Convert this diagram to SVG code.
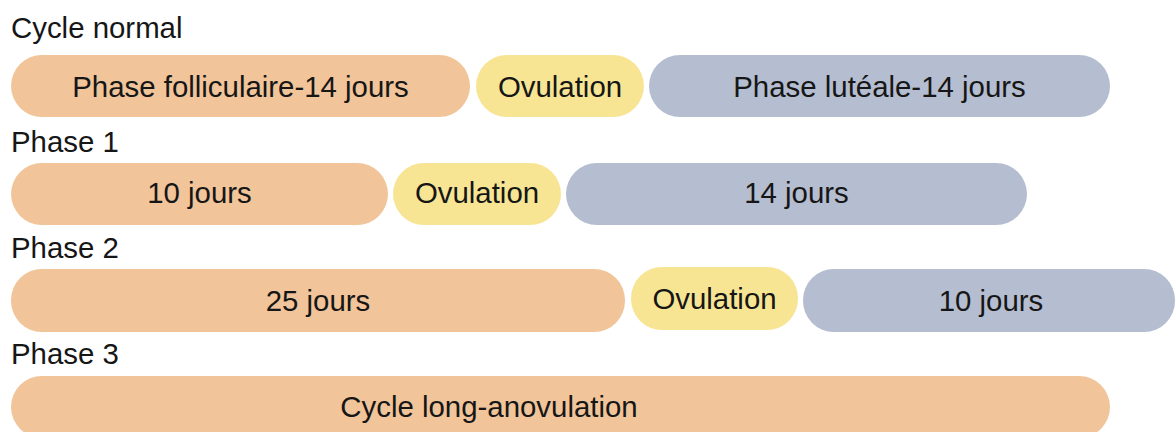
<svg xmlns="http://www.w3.org/2000/svg" width="1176" height="432" viewBox="0 0 1176 432">
<style>
.t{font-family:"Liberation Sans",Arial,Helvetica,sans-serif;font-size:29.4px;fill:#161616}
.c{text-anchor:middle}
.o{fill:#F1C499}
.y{fill:#F8E594}
.b{fill:#B5BDD0}
</style>
<rect width="1176" height="432" fill="#fff"/>
<g id="labels">
<text class="t" x="11" y="38">Cycle normal</text>
<text class="t" x="11" y="152">Phase 1</text>
<text class="t" x="11" y="258">Phase 2</text>
<text class="t" x="11" y="364">Phase 3</text>
</g>
<g id="row0-foll"><rect class="o" x="11" y="55" width="459" height="62" rx="31"/><text class="t c" x="240.5" y="96.5">Phase folliculaire-14 jours</text></g>
<g id="row0-ovu"><rect class="y" x="476" y="55" width="168" height="62" rx="31"/><text class="t c" x="560" y="96.5">Ovulation</text></g>
<g id="row0-lut"><rect class="b" x="649" y="55" width="461" height="62" rx="31"/><text class="t c" x="879.5" y="96.5">Phase lutéale-14 jours</text></g>
<g id="row1-foll"><rect class="o" x="11" y="163" width="377" height="62" rx="31"/><text class="t c" x="199.5" y="203">10 jours</text></g>
<g id="row1-ovu"><rect class="y" x="393" y="163" width="168" height="62" rx="31"/><text class="t c" x="477" y="203">Ovulation</text></g>
<g id="row1-lut"><rect class="b" x="566" y="163" width="461" height="62" rx="31"/><text class="t c" x="796.5" y="203">14 jours</text></g>
<g id="row2-foll"><rect class="o" x="11" y="269" width="614" height="63" rx="31"/><text class="t c" x="318" y="310.5">25 jours</text></g>
<g id="row2-ovu"><rect class="y" x="631" y="267" width="167" height="63" rx="31"/><text class="t c" x="714.5" y="308.5">Ovulation</text></g>
<g id="row2-lut"><rect class="b" x="803" y="269" width="372" height="63" rx="31"/><text class="t c" x="991" y="310.5">10 jours</text></g>
<g id="row3-anov"><rect class="o" x="11" y="376" width="1099" height="62" rx="31"/><text class="t c" x="489" y="416.5">Cycle long-anovulation</text></g>
<g id="connectors"></g>
</svg>
